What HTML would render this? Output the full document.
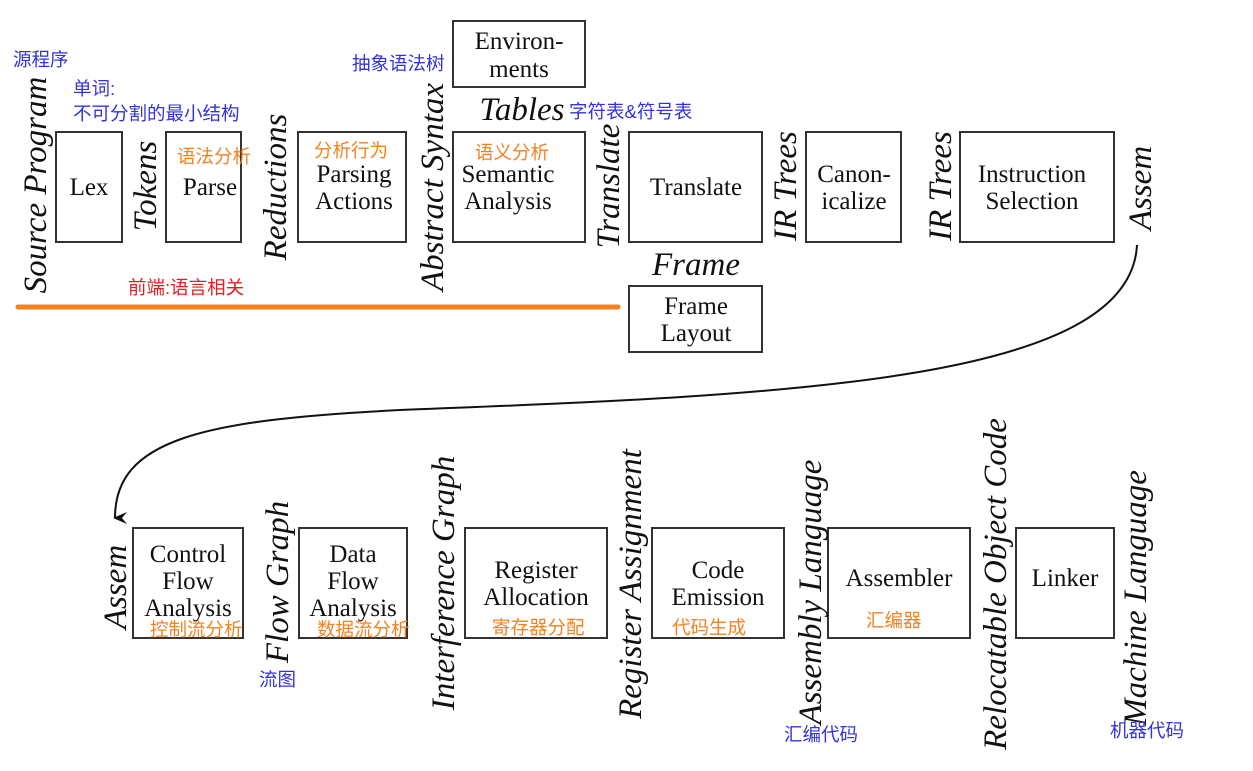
<!DOCTYPE html>
<html><head><meta charset="utf-8"><style>
body{margin:0;background:#fff}
svg{display:block}
.b{fill:#fff;stroke:#333;stroke-width:2}
.t{font-family:"Liberation Serif",serif;font-size:25px;fill:#111;text-anchor:middle}
.i{font-family:"Liberation Serif",serif;font-style:italic;font-size:33px;fill:#111;text-anchor:middle}
.bl{font-family:"Liberation Sans","Noto Sans CJK SC",sans-serif;font-size:18.5px;fill:#3333dd}
.or{font-family:"Liberation Sans","Noto Sans CJK SC",sans-serif;font-size:18.5px;fill:#f5821f}
.rd{font-family:"Liberation Sans","Noto Sans CJK SC",sans-serif;font-size:18.5px;fill:#e02020}
</style></head><body>
<svg width="1253" height="771" viewBox="0 0 1253 771" xmlns="http://www.w3.org/2000/svg">
<defs><marker id="a" markerWidth="12" markerHeight="14" refX="6" refY="12" orient="auto-start-reverse" markerUnits="userSpaceOnUse"><path d="M0,0 L6,14 L12,0 L6,5 Z" fill="#111"/></marker></defs>
<rect class="b" x="56" y="132" width="66" height="110"/>
<rect class="b" x="166" y="132" width="75" height="110"/>
<rect class="b" x="298" y="132" width="108" height="110"/>
<rect class="b" x="453" y="132" width="132" height="110"/>
<rect class="b" x="453" y="21" width="132" height="66"/>
<rect class="b" x="629" y="132" width="133" height="110"/>
<rect class="b" x="806" y="132" width="95" height="110"/>
<rect class="b" x="960" y="132" width="154" height="110"/>
<rect class="b" x="629" y="286" width="133" height="66"/>
<text class="t" x="89" y="195">Lex</text>
<text class="t" x="210" y="195">Parse</text>
<text class="t" x="354" y="182">Parsing</text><text class="t" x="354" y="209">Actions</text>
<text class="t" x="508" y="182">Semantic</text><text class="t" x="508" y="209">Analysis</text>
<text class="t" x="519" y="49">Environ-</text><text class="t" x="519" y="77">ments</text>
<text class="t" x="696" y="195">Translate</text>
<text class="t" x="854" y="182">Canon-</text><text class="t" x="854" y="209">icalize</text>
<text class="t" x="1032" y="182">Instruction</text><text class="t" x="1032" y="209">Selection</text>
<text class="t" x="696" y="314">Frame</text><text class="t" x="696" y="341">Layout</text>
<text class="i" x="522" y="120">Tables</text>
<text class="i" x="696" y="275">Frame</text>
<text class="i" transform="translate(46,185) rotate(-90)">Source Program</text>
<text class="i" transform="translate(156,186) rotate(-90)">Tokens</text>
<text class="i" transform="translate(286,187) rotate(-90)">Reductions</text>
<text class="i" transform="translate(443,187) rotate(-90)">Abstract Syntax</text>
<text class="i" transform="translate(619,186) rotate(-90)">Translate</text>
<text class="i" transform="translate(796,186) rotate(-90)">IR Trees</text>
<text class="i" transform="translate(951,186) rotate(-90)">IR Trees</text>
<text class="i" transform="translate(1151,188) rotate(-90)">Assem</text>
<path d="M1137,245 C1130,380 800,395 400,410 C200,420 115,440 115,518" fill="none" stroke="#111" stroke-width="2" marker-end="url(#a)"/>
<rect class="b" x="133" y="528" width="110" height="110"/>
<rect class="b" x="299" y="528" width="108" height="110"/>
<rect class="b" x="465" y="528" width="142" height="110"/>
<rect class="b" x="652" y="528" width="132" height="110"/>
<rect class="b" x="828" y="528" width="142" height="110"/>
<rect class="b" x="1016" y="528" width="98" height="110"/>
<text class="t" x="188" y="562">Control</text><text class="t" x="188" y="589">Flow</text><text class="t" x="188" y="616">Analysis</text>
<text class="t" x="353" y="562">Data</text><text class="t" x="353" y="589">Flow</text><text class="t" x="353" y="616">Analysis</text>
<text class="t" x="536" y="578">Register</text><text class="t" x="536" y="605">Allocation</text>
<text class="t" x="718" y="578">Code</text><text class="t" x="718" y="605">Emission</text>
<text class="t" x="899" y="586">Assembler</text>
<text class="t" x="1065" y="586">Linker</text>
<text class="i" transform="translate(126,587) rotate(-90)">Assem</text>
<text class="i" transform="translate(288,582) rotate(-90)">Flow Graph</text>
<text class="i" transform="translate(454,583) rotate(-90)">Interference Graph</text>
<text class="i" transform="translate(641,584) rotate(-90)">Register Assignment</text>
<text class="i" transform="translate(821,592) rotate(-90)">Assembly Language</text>
<text class="i" transform="translate(1006,584) rotate(-90)">Relocatable Object Code</text>
<text class="i" transform="translate(1146,598) rotate(-90)">Machine Language</text>
<text class="bl" x="13" y="66">源程序</text>
<text class="bl" x="73" y="95">单词:</text>
<text class="bl" x="73" y="120">不可分割的最小结构</text>
<text class="bl" x="352" y="70">抽象语法树</text>
<text class="bl" x="569" y="118">字符表&amp;符号表</text>
<text class="bl" x="259" y="686">流图</text>
<text class="bl" x="784" y="741">汇编代码</text>
<text class="bl" x="1110" y="737">机器代码</text>
<text class="or" x="177" y="163">语法分析</text>
<text class="or" x="314" y="157">分析行为</text>
<text class="or" x="475" y="159">语义分析</text>
<text class="or" x="150" y="636">控制流分析</text>
<text class="or" x="317" y="636">数据流分析</text>
<text class="or" x="492" y="634">寄存器分配</text>
<text class="or" x="672" y="634">代码生成</text>
<text class="or" x="866" y="627">汇编器</text>
<text class="rd" x="128" y="294">前端:语言相关</text>
<line x1="18" y1="307" x2="618" y2="307" stroke="#f5821f" stroke-width="5" stroke-linecap="round"/>
</svg>
</body></html>
